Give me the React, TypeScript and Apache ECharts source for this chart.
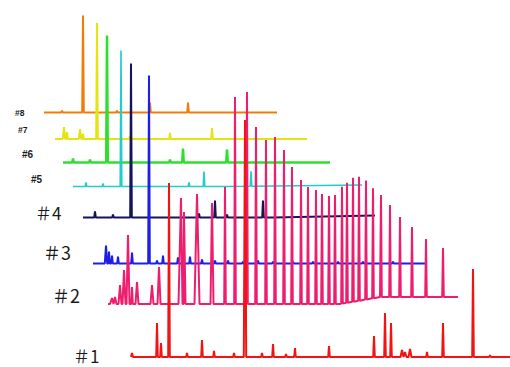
import React, { useEffect, useRef } from 'react';
import * as echarts from 'echarts';

// Trace labels (back to front)
const TRACE_LABELS = ['#8', '#7', '#6', '#5', '＃4', '＃3', '＃2', '＃1'];
// Retention span of each trace (trace units)
const TRACE_LENGTHS = [233, 252, 267, 289, 292, 332, 350, 379];

// Peaks: [retention, height, halfWidth?]
const PEAKS_8 = [[18, 2], [39, 97], [73, 2], [106, 10], [144, 10]];
const PEAKS_7 = [[9, 12, 1.2], [12, 7], [25, 10, 1.2], [28, 5], [42, 116], [75, 3], [115, 6], [157, 11]];
const PEAKS_6 = [[10, 4], [27, 3], [44, 127], [107, 3], [120, 14], [164, 13]];
const PEAKS_5 = [[13, 4], [30, 3], [48, 136], [116, 4], [131, 15], [178, 15]];
const PEAKS_4 = [[12, 6], [30, 3], [48, 154], [116, 4], [132, 17], [144, 3], [180, 17]];
const PEAKS_3 = [
  [13, 18, 1.2], [16, 12], [19, 8], [25, 7], [39, 11], [56, 188], [64, 3], [70, 8],
  [85, 6], [97, 7], [109, 4], [122, 3], [135, 3], [150, 2], [165, 3], [180, 2],
  [200, 2], [220, 2], [245, 2], [270, 2], [300, 2],
];
const PEAKS_2 = [
  [4, 6, 2], [7, 7, 1.5], [12, 19, 1.5], [16, 34, 1.5], [20, 69, 1.5], [24, 17], [29, 22, 1.5],
  [44, 19, 1.5], [51, 37, 1.5], [73, 106, 2.5], [76, 92, 1.5], [89, 110, 2.5], [104, 101, 1.5],
  [117, 117], [127, 207], [139, 212], [148, 177], [158, 164], [167, 167], [176, 154],
  [184, 137], [193, 124], [200, 117], [208, 114], [214, 110], [221, 108], [227, 109],
  [234, 117], [239, 120], [245, 124], [251, 124], [258, 119], [265, 110], [273, 102],
  [282, 92], [292, 80], [304, 70], [318, 58], [335, 49],
];
const PEAKS_1 = [
  [1, 4, 1], [26, 34], [30, 14], [38, 174], [56, 4], [71, 17], [83, 6], [103, 4], [114, 237, 1.2],
  [131, 4], [142, 13], [155, 3], [164, 9], [198, 11], [243, 21], [254, 44], [260, 34],
  [271, 7, 1.5], [274, 5, 1.5], [279, 8, 1.5], [296, 5], [312, 34], [342, 88], [359, 2],
];
const TRACE_PEAKS = [PEAKS_8, PEAKS_7, PEAKS_6, PEAKS_5, PEAKS_4, PEAKS_3, PEAKS_2, PEAKS_1];

// Baseline drift knots: [retention, level]
const DRIFT_5 = [[0, 0], [150, 0], [289, 1.5]];
const DRIFT_4 = [[0, 0], [190, 0], [292, 2]];
const DRIFT_2 = [[0, 0], [232, 0], [272, 7], [350, 7]];
const FLAT = [[0, 0]];
const TRACE_DRIFT = [FLAT, FLAT, FLAT, DRIFT_5, DRIFT_4, FLAT, DRIFT_2, FLAT];

// Layout / style (not data)
const LEFTS = [44, 55, 63, 73, 83, 93, 108, 131];
const BASELINES = [112.5, 139, 162.5, 186.5, 217.5, 263.5, 304, 357];
const COLORS = ['#F07D0A', '#E4E410', '#2EE02E', '#22CCCC', '#14145A', '#1E1EE6', '#EE1E6E', '#F01414'];
const WIDTHS = [2, 2, 2.5, 1.6, 2, 2, 2, 2];
const LABEL_POS = [[15, 113], [18, 130], [22, 154], [31, 179], [35, 212], [43, 252], [52, 295], [73, 355]];
const LABEL_SIZE = [8.5, 8.5, 10, 10, 17, 18, 18, 17];

function levelAt(drift: number[][], t: number): number {
  if (drift.length === 1) return drift[0][1];
  for (let i = 0; i < drift.length - 1; i++) {
    const [t0, l0] = drift[i];
    const [t1, l1] = drift[i + 1];
    if (t >= t0 && t <= t1) return l0 + ((l1 - l0) * (t - t0)) / (t1 - t0);
  }
  return t < drift[0][0] ? drift[0][1] : drift[drift.length - 1][1];
}

function buildTrace(len: number, peaks: number[][], drift: number[][]) {
  const pts: number[][] = [[0, levelAt(drift, 0)]];
  const sorted = [...peaks].sort((a, b) => a[0] - b[0]);
  for (const p of sorted) {
    const [t, h] = p;
    const w = p[2] ?? 0.8;
    const b = levelAt(drift, t);
    pts.push([t - w, b], [t, b + h], [t + w, b]);
  }
  drift.forEach(([t, l]) => {
    if (t > 0) pts.push([t, l]);
  });
  pts.push([len, levelAt(drift, len)]);
  pts.sort((a, b) => a[0] - b[0]);
  return pts;
}

export default function App() {
  const ref = useRef<HTMLDivElement>(null);
  useEffect(() => {
    document.body.style.margin = '0';
    const chart = echarts.init(ref.current!, undefined, { renderer: 'svg' });
    const grids: any[] = [];
    const xAxes: any[] = [];
    const yAxes: any[] = [];
    const series: any[] = [];
    TRACE_LABELS.forEach((name, i) => {
      grids.push({ left: LEFTS[i], top: 0, width: TRACE_LENGTHS[i], height: BASELINES[i] });
      xAxes.push({ gridIndex: i, type: 'value', min: 0, max: TRACE_LENGTHS[i], show: false });
      yAxes.push({ gridIndex: i, type: 'value', min: 0, max: BASELINES[i], show: false });
      series.push({
        name,
        type: 'line',
        xAxisIndex: i,
        yAxisIndex: i,
        data: buildTrace(TRACE_LENGTHS[i], TRACE_PEAKS[i], TRACE_DRIFT[i]),
        showSymbol: false,
        clip: false,
        z: 2 + i,
        lineStyle: { color: COLORS[i], width: WIDTHS[i], join: 'bevel' },
        itemStyle: { color: COLORS[i] },
      });
    });
    const graphics = TRACE_LABELS.map((text, i) => {
      const big = i >= 4;
      return {
        type: 'text',
        x: LABEL_POS[i][0],
        y: LABEL_POS[i][1],
        style: {
          text,
          fill: '#1a1a1a',
          fontSize: LABEL_SIZE[i],
          fontWeight: big ? 'normal' : 'bold',
          fontFamily: big ? '"Noto Sans CJK JP", sans-serif' : '"Liberation Sans", Arial, sans-serif',
          verticalAlign: 'middle',
          textVerticalAlign: 'middle',
        },
      };
    });
    chart.setOption({
      animation: false,
      backgroundColor: '#ffffff',
      grid: grids,
      xAxis: xAxes,
      yAxis: yAxes,
      series,
      graphic: graphics,
    });
    return () => chart.dispose();
  }, []);
  return (
    <div
      ref={ref}
      style={{ position: 'fixed', left: 0, top: 0, width: 510, height: 367 }}
    />
  );
}
